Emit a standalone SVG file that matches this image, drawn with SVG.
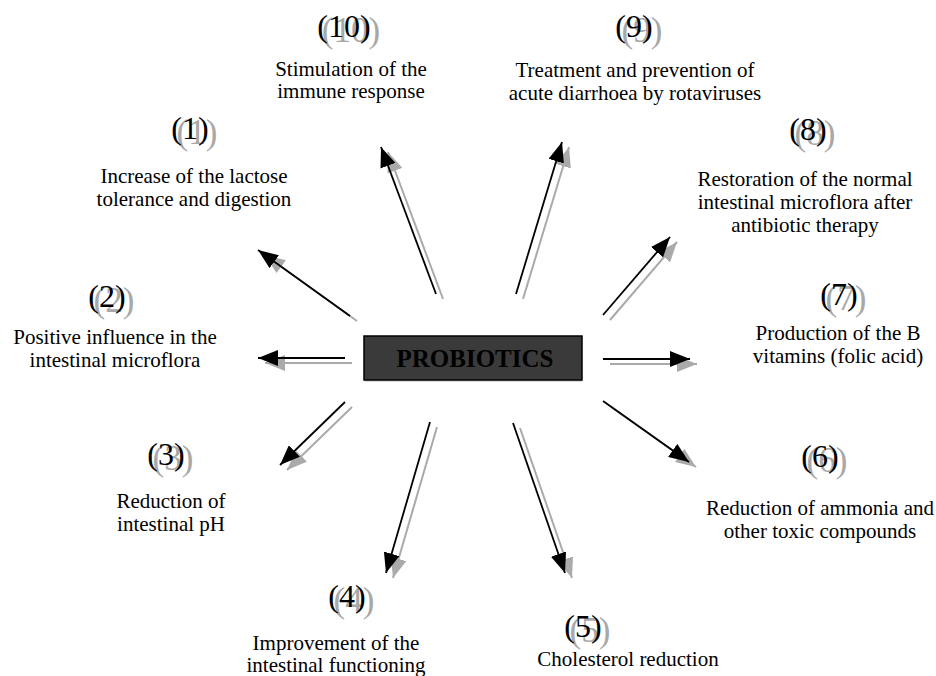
<svg xmlns="http://www.w3.org/2000/svg" width="936" height="676" viewBox="0 0 936 676">
<defs>
<style>
.lbl{font-family:"Liberation Serif","Times New Roman",serif;font-size:21px;fill:#000;text-anchor:middle}
.num{font-family:"Liberation Serif","Times New Roman",serif;font-size:32px;fill:#000;text-anchor:middle}
.nums{font-family:"Liberation Serif","Times New Roman",serif;font-size:35px;fill:#a8a8a8;text-anchor:middle}
.ln{stroke:#000;stroke-width:1.8;fill:none;marker-end:url(#ah)}
.sh{stroke:#aaaaaa;stroke-width:2;fill:none;marker-end:url(#ahs)}
</style>
<marker id="ah" markerUnits="userSpaceOnUse" markerWidth="20" markerHeight="16" refX="20" refY="8" orient="auto" viewBox="0 0 20 16">
<path d="M0,0 L20,8 L0,16 z" fill="#000"/>
</marker>
<marker id="ahs" markerUnits="userSpaceOnUse" markerWidth="20" markerHeight="16" refX="20" refY="8" orient="auto" viewBox="0 0 20 16">
<path d="M0,0 L20,8 L0,16 z" fill="#aaaaaa"/>
</marker>
</defs>
<rect width="936" height="676" fill="#fff"/>

<g id="connectors">
<g transform="translate(7,5)">
<line class="sh" x1="436" y1="294" x2="381" y2="147"/>
<line class="sh" x1="516" y1="294" x2="562" y2="142"/>
<line class="sh" x1="350" y1="316" x2="258" y2="250"/>
<line class="sh" x1="345" y1="358" x2="258" y2="358"/>
<line class="sh" x1="603" y1="315" x2="670" y2="237"/>
<line class="sh" x1="603" y1="359" x2="690" y2="359"/>
<line class="sh" x1="603" y1="401" x2="689" y2="462"/>
<line class="sh" x1="345" y1="402" x2="280" y2="465"/>
<line class="sh" x1="430" y1="422" x2="386" y2="573"/>
<line class="sh" x1="513" y1="423" x2="565" y2="573"/>
</g>
<line class="ln" x1="436" y1="294" x2="381" y2="147"/>
<line class="ln" x1="516" y1="294" x2="562" y2="142"/>
<line class="ln" x1="350" y1="316" x2="258" y2="250"/>
<line class="ln" x1="345" y1="358" x2="258" y2="358"/>
<line class="ln" x1="603" y1="315" x2="670" y2="237"/>
<line class="ln" x1="603" y1="359" x2="690" y2="359"/>
<line class="ln" x1="603" y1="401" x2="689" y2="462"/>
<line class="ln" x1="345" y1="402" x2="280" y2="465"/>
<line class="ln" x1="430" y1="422" x2="386" y2="573"/>
<line class="ln" x1="513" y1="423" x2="565" y2="573"/>
</g>

<g id="probiotics">
<line x1="365" y1="381" x2="582" y2="381" stroke="#b0b0b0" stroke-width="1"/>
<rect x="364" y="336" width="218" height="44" fill="#3a3a3a" stroke="#000" stroke-width="1.5"/>
<text x="475" y="367" font-family="Liberation Serif, Times New Roman, serif" font-size="25" font-weight="bold" fill="#000" text-anchor="middle">PROBIOTICS</text>
</g>

<g id="n10">
<text class="nums" x="351" y="42">(10)</text>
<text class="num" x="344" y="37">(10)</text>
<text class="lbl" x="351" y="76">Stimulation of the</text>
<text class="lbl" x="351" y="98">immune response</text>
</g>

<g id="n9">
<text class="nums" x="642" y="42">(9)</text>
<text class="num" x="634" y="37">(9)</text>
<text class="lbl" x="635" y="77">Treatment and prevention of</text>
<text class="lbl" x="635" y="100">acute diarrhoea by rotaviruses</text>
</g>

<g id="n1">
<text class="nums" x="197" y="144">(1)</text>
<text class="num" x="190" y="139">(1)</text>
<text class="lbl" x="194" y="183">Increase of the lactose</text>
<text class="lbl" x="194" y="206">tolerance and digestion</text>
</g>

<g id="n8">
<text class="nums" x="815" y="145">(8)</text>
<text class="num" x="808" y="140">(8)</text>
<text class="lbl" x="805" y="186">Restoration of the normal</text>
<text class="lbl" x="805" y="209">intestinal microflora after</text>
<text class="lbl" x="805" y="232">antibiotic therapy</text>
</g>

<g id="n2">
<text class="nums" x="114" y="312">(2)</text>
<text class="num" x="107" y="307">(2)</text>
<text class="lbl" x="115" y="344">Positive influence in the</text>
<text class="lbl" x="115" y="367">intestinal microflora</text>
</g>

<g id="n7">
<text class="nums" x="846" y="310">(7)</text>
<text class="num" x="839" y="305">(7)</text>
<text class="lbl" x="838" y="340">Production of the B</text>
<text class="lbl" x="838" y="363">vitamins (folic acid)</text>
</g>

<g id="n3">
<text class="nums" x="173" y="470">(3)</text>
<text class="num" x="166" y="465">(3)</text>
<text class="lbl" x="171" y="508">Reduction of</text>
<text class="lbl" x="171" y="531">intestinal pH</text>
</g>

<g id="n6">
<text class="nums" x="827" y="472">(6)</text>
<text class="num" x="820" y="467">(6)</text>
<text class="lbl" x="820" y="515">Reduction of ammonia and</text>
<text class="lbl" x="820" y="538">other toxic compounds</text>
</g>

<g id="n4">
<text class="nums" x="354" y="612">(4)</text>
<text class="num" x="347" y="607">(4)</text>
<text class="lbl" x="336" y="650">Improvement of the</text>
<text class="lbl" x="336" y="672">intestinal functioning</text>
</g>

<g id="n5">
<text class="nums" x="590" y="642">(5)</text>
<text class="num" x="583" y="637">(5)</text>
<text class="lbl" x="628" y="666">Cholesterol reduction</text>
</g>
</svg>
